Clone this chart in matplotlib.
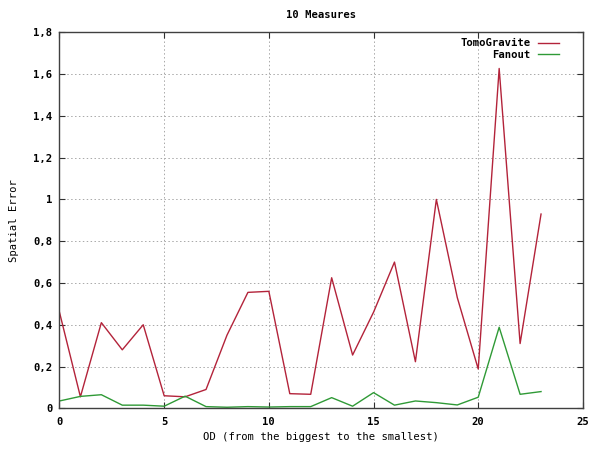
import matplotlib.pyplot as plt

# erreur spatiale par OD, triees de la plus grosse a la plus petite
od = list(range(24))
tomogravite = [0.46, 0.055, 0.41, 0.28, 0.40, 0.06, 0.055, 0.09, 0.35, 0.555, 0.56, 0.07,
               0.067, 0.625, 0.255, 0.46, 0.70, 0.223, 1.0, 0.53, 0.188, 1.627, 0.31, 0.93]
fanout = [0.035, 0.057, 0.065, 0.015, 0.015, 0.01, 0.058, 0.008, 0.005, 0.008, 0.006, 0.008,
          0.008, 0.051, 0.01, 0.075, 0.015, 0.035, 0.027, 0.016, 0.053, 0.388, 0.067, 0.08]

x_ticks = [0, 5, 10, 15, 20, 25]
y_ticks = [0, 0.2, 0.4, 0.6, 0.8, 1.0, 1.2, 1.4, 1.6, 1.8]
y_tick_labels = ['0', '0,2', '0,4', '0,6', '0,8', '1', '1,2', '1,4', '1,6', '1,8']

plt.rcParams['font.family'] = 'DejaVu Sans Mono'
plt.rcParams['font.weight'] = 'bold'
plt.rcParams['font.size'] = 7.6

fig = plt.figure(figsize=(5.9, 4.51), dpi=100)
ax = fig.add_axes([0.1008, 0.0947, 0.8872, 0.8336])

ax.plot(od, tomogravite, color='#b3233a', lw=1.0, label='TomoGravite')
ax.plot(od, fanout, color='#2f9a36', lw=1.0, label='Fanout')

ax.set_xlim(0, 25)
ax.set_ylim(0, 1.8)
ax.set_xticks(x_ticks)
ax.set_yticks(y_ticks)
ax.set_yticklabels(y_tick_labels)

# style gnuplot : ticks vers l'interieur sur les 4 cotes, grille pointillee
ax.tick_params(direction='in', top=True, right=True, length=4, width=0.8,
               color='#303030', labelcolor='black')
ax.tick_params(axis='x', pad=6.5)
ax.tick_params(axis='y', pad=5)
ax.grid(True, color='#a8a8a8', ls=(0, (1.5, 2.5)), lw=0.7)
for s in ax.spines.values():
    s.set_color('#404040')
    s.set_linewidth(1.0)

ax.set_title('10 Measures', pad=10, fontweight='bold', fontsize=7.6)
ax.set_xlabel('OD (from the biggest to the smallest)')
ax.set_ylabel('Spatial Error')
ax.xaxis.set_label_coords(0.5, -0.063)
ax.yaxis.set_label_coords(-0.077, 0.5)

ax.legend(loc='upper right', bbox_to_anchor=(0.955, 0.984), frameon=False,
          markerfirst=False, borderpad=0, borderaxespad=0, handlelength=2.0,
          handletextpad=0.75, labelspacing=0.15)

fig.savefig('out.png', dpi=100)
